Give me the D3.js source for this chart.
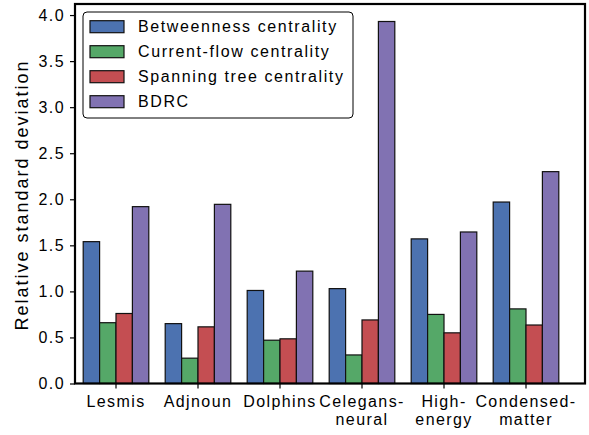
<!DOCTYPE html>
<html>
<head>
<meta charset="utf-8">
<script src="https://cdn.jsdelivr.net/npm/d3@7"></script>
<style>
  body { margin: 0; background: #fff; }
  svg { font-family: "Liberation Sans", Arial, sans-serif; }
</style>
</head>
<body>
<svg id="chart" width="589" height="435"></svg>
<script>
const categories = ["Lesmis", "Adjnoun", "Dolphins", "Celegans-neural", "High-energy", "Condensed-matter"];
const categoryLines = [["Lesmis"], ["Adjnoun"], ["Dolphins"], ["Celegans-", "neural"], ["High-", "energy"], ["Condensed-", "matter"]];
const seriesNames = ["Betweenness centrality", "Current-flow centrality", "Spanning tree centrality", "BDRC"];
const seriesColors = ["#4c72b0", "#55a868", "#c44e52", "#8172b2"];

const betweenness = [1.54, 0.65, 1.01, 1.03, 1.57, 1.97];
const currentFlow = [0.66, 0.275, 0.47, 0.31, 0.75, 0.81];
const spanningTree = [0.76, 0.615, 0.485, 0.69, 0.55, 0.635];
const bdrc = [1.92, 1.945, 1.22, 3.93, 1.645, 2.30];

const yTicks = [0, 0.5, 1.0, 1.5, 2.0, 2.5, 3.0, 3.5, 4.0];

const seriesValues = [betweenness, currentFlow, spanningTree, bdrc];

const svg = d3.select('#chart');
const plotLeft = 75, plotRight = 585, plotTop = 4, plotBottom = 383.5;

const x = d3.scaleBand().domain(categories).range([plotLeft, plotLeft + 82 * 6]);
const x1 = d3.scaleBand().domain(seriesNames).range([x.bandwidth() * 0.1, x.bandwidth() * 0.9]);
const y = d3.scaleLinear().domain([0, 4.12]).range([plotBottom, plotTop]);

// bars
const groups = svg.append('g').selectAll('g')
  .data(categories)
  .join('g')
  .attr('transform', d => `translate(${x(d)},0)`);

groups.selectAll('rect')
  .data((d, i) => seriesNames.map((s, j) => ({ s, j, v: seriesValues[j][i] })))
  .join('rect')
  .attr('x', d => x1(d.s))
  .attr('y', d => y(d.v))
  .attr('width', x1.bandwidth())
  .attr('height', d => y(0) - y(d.v))
  .attr('fill', d => seriesColors[d.j])
  .attr('stroke', '#111')
  .attr('stroke-width', 1.2);

// y axis
const yAxis = svg.append('g')
  .attr('transform', `translate(${plotLeft},0)`)
  .call(d3.axisLeft(y).tickValues(yTicks).tickFormat(d3.format('.1f')).tickSize(5).tickPadding(5));
yAxis.select('.domain').remove();
yAxis.selectAll('line').attr('stroke', '#000').attr('stroke-width', 1.2);
yAxis.selectAll('text')
  .attr('font-size', '16px')
  .attr('letter-spacing', '1.4px')
  .attr('fill', '#000')
  .style('font-family', '"Liberation Sans", Arial, sans-serif');

// x axis
const xAxis = svg.append('g')
  .attr('transform', `translate(0,${plotBottom})`)
  .call(d3.axisBottom(x).tickSize(5).tickFormat(''));
xAxis.select('.domain').remove();
xAxis.selectAll('line').attr('stroke', '#000').attr('stroke-width', 1.2);

svg.append('g').selectAll('text')
  .data(categories)
  .join('text')
  .attr('x', d => x(d) + x.bandwidth() / 2)
  .attr('y', 407)
  .attr('text-anchor', 'middle')
  .attr('font-size', '16px')
  .attr('letter-spacing', '1.4px')
  .selectAll('tspan')
  .data((d, i) => categoryLines[i])
  .join('tspan')
  .attr('x', function () { return d3.select(this.parentNode).attr('x'); })
  .attr('dy', (d, i) => i === 0 ? 0 : 18)
  .text(d => d);

// frame
svg.append('rect')
  .attr('x', plotLeft).attr('y', plotTop)
  .attr('width', plotRight - plotLeft).attr('height', plotBottom - plotTop)
  .attr('fill', 'none')
  .attr('stroke', '#000')
  .attr('stroke-width', 2.2);

// y label
svg.append('text')
  .attr('transform', 'translate(28,195) rotate(-90)')
  .attr('text-anchor', 'middle')
  .attr('font-size', '18px')
  .attr('letter-spacing', '2px')
  .text('Relative standard deviation');

// legend
const legend = svg.append('g');
legend.append('rect')
  .attr('x', 83).attr('y', 12)
  .attr('width', 270).attr('height', 106)
  .attr('rx', 4)
  .attr('fill', '#fff')
  .attr('stroke', '#000')
  .attr('stroke-width', 1);

const item = legend.selectAll('g.item')
  .data(seriesNames)
  .join('g')
  .attr('class', 'item')
  .attr('transform', (d, i) => `translate(0,${20.7 + i * 25})`);

item.append('rect')
  .attr('x', 90).attr('y', 0)
  .attr('width', 34).attr('height', 12)
  .attr('fill', (d, i) => seriesColors[i])
  .attr('stroke', '#111')
  .attr('stroke-width', 1.2);

item.append('text')
  .attr('x', 138).attr('y', 6)
  .attr('dy', '0.36em')
  .attr('font-size', '16px')
  .attr('letter-spacing', '1.6px')
  .text(d => d);
</script>
</body>
</html>
